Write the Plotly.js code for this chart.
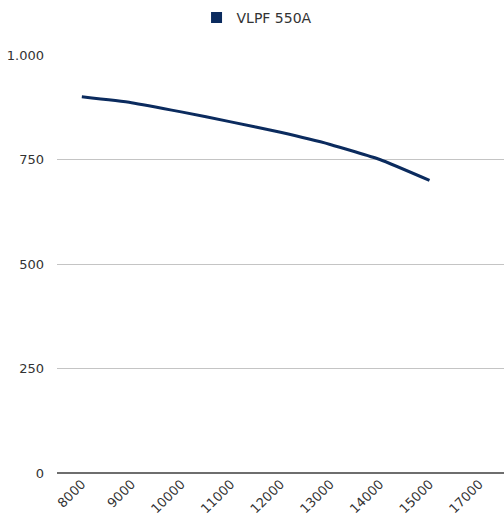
<!DOCTYPE html>
<html>
<head>
<meta charset="utf-8">
<script src="https://cdn.plot.ly/plotly-3.0.1.min.js"></script>
<style>html,body{margin:0;padding:0;background:#fff;}#chart{width:504px;height:527px;}</style>
</head>
<body>
<div id="chart"></div>
<script>
const categories = ["8000","9000","10000","11000","12000","13000","14000","15000","17000"];
const seriesName = "VLPF 550A";
const values = [900, 886, 864, 840, 815, 786, 750, 700, null];
const yTicks = [0, 250, 500, 750, 1000];

const navy = "#0b2b5e";
const data = [
  {
    x: categories, y: values, type: "scatter", mode: "lines",
    line: {color: navy, width: 3, shape: "spline", smoothing: 0.45},
    showlegend: false, hoverinfo: "x+y", connectgaps: false
  },
  {
    x: [null], y: [null], type: "scatter", mode: "markers", name: seriesName,
    marker: {symbol: "square", size: 11, color: navy}, showlegend: true
  }
];
const layout = {
  width: 504, height: 527,
  margin: {l: 57, r: 0, t: 55, b: 54},
  paper_bgcolor: "#fff", plot_bgcolor: "#fff",
  separators: ",.",
  font: {family: "DejaVu Sans, sans-serif", size: 13, color: "#333"},
  showlegend: true,
  legend: {orientation: "h", x: 0.51, xanchor: "center", xref: "container",
           y: 1 - 18/527, yanchor: "middle", yref: "container",
           font: {size: 14, color: "#333"}},
  xaxis: {type: "category", range: [-0.5, categories.length - 0.5], tickangle: -45,
          showgrid: false, zeroline: false, automargin: false,
          showline: false, ticks: "", tickfont: {size: 13, color: "#333"}, fixedrange: true},
  yaxis: {range: [0, 1000], tickvals: yTicks, separatethousands: true, automargin: false,
          showgrid: true, gridcolor: "#c4c4c4", gridwidth: 1,
          zeroline: true, zerolinecolor: "#6e6e6e", zerolinewidth: 2,
          ticks: "", ticklabelstandoff: 12, tickfont: {size: 13, color: "#333"}, fixedrange: true}
};
Plotly.newPlot("chart", data, layout, {displayModeBar: false, staticPlot: true});
</script>
</body>
</html>
